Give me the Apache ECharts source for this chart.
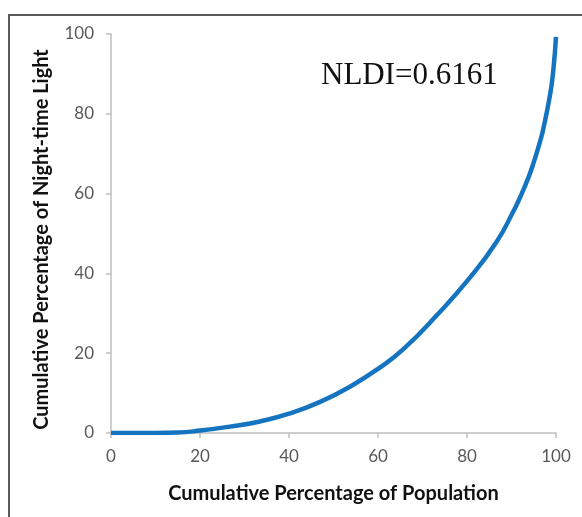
<!DOCTYPE html>
<html>
<head>
<meta charset="utf-8">
<script src="https://cdn.jsdelivr.net/npm/echarts@6/dist/echarts.min.js"></script>
<style>
  html, body { margin: 0; padding: 0; background: #fff; }
  #chart { width: 582px; height: 517px; }
</style>
</head>
<body>
<div id="chart"></div>
<script>
// Lorenz curve of night-time light against population
const populationPct = [0, 5, 10, 15, 20, 26.7, 33.5, 40.2, 47, 53.7, 60.4, 65.7, 73.2, 80.7,
  86.7, 90.4, 91.9, 93.8, 94.9, 96.4, 97.1, 98.7, 99.4, 100];
const lightPct = [0, 0, 0, 0.1, 0.6, 1.6, 2.9, 4.9, 7.8, 11.6, 16.4, 21, 29.5, 39,
  48, 55.5, 59, 64, 67.5, 73, 76, 85, 91, 99.3];
const axisTicks = [0, 20, 40, 60, 80, 100];
const indexLabel = 'NLDI=0.6161';

const points = populationPct.map((x, i) => [x, lightPct[i]]);

const axisGray = '#bfbfbf';
const labelGray = '#595959';

const chart = echarts.init(document.getElementById('chart'), null, { renderer: 'canvas' });
chart.setOption({
  animation: false,
  backgroundColor: '#fff',
  grid: { left: 111, right: 26, top: 34, bottom: 84 },
  graphic: [
    {
      type: 'rect',
      shape: { x: 9, y: 15, width: 620, height: 560 },
      style: { fill: 'none', stroke: '#5a5a5a', lineWidth: 2 },
      silent: true
    },
    {
      type: 'text',
      left: 321, top: 60,
      style: {
        text: indexLabel,
        font: '31px "Liberation Serif", "Times New Roman", serif',
        fill: '#111'
      }
    }
  ],
  xAxis: {
    type: 'value', min: 0, max: 100, interval: 20,
    name: 'Cumulative Percentage of Population',
    nameLocation: 'middle', nameGap: 51,
    nameTextStyle: { fontFamily: 'Lato', fontWeight: 'bold', fontSize: 20, color: '#111' },
    axisLine: { show: true, lineStyle: { color: axisGray, width: 1.5 } },
    axisTick: { show: true, length: 5, lineStyle: { color: axisGray, width: 1.5 } },
    axisLabel: {
      margin: 15, fontFamily: 'Lato', fontSize: 17, color: labelGray,
      customValues: axisTicks
    },
    splitLine: { show: false }
  },
  yAxis: {
    type: 'value', min: 0, max: 100, interval: 20,
    name: 'Cumulative Percentage of Night-time Light',
    nameLocation: 'middle', nameGap: 59,
    nameTextStyle: {
      fontFamily: 'Lato', fontWeight: 'bold', fontSize: 20, color: '#111',
      padding: [0, 12, 0, 0]
    },
    axisLine: { show: true, lineStyle: { color: axisGray, width: 1.5 } },
    axisTick: { show: true, length: 5, lineStyle: { color: axisGray, width: 1.5 } },
    axisLabel: { margin: 17, fontFamily: 'Lato', fontSize: 17, color: labelGray },
    splitLine: { show: false }
  },
  series: [{
    type: 'line',
    data: points,
    smooth: 0.5,
    showSymbol: false,
    lineStyle: { color: '#1574c0', width: 4.5 },
    z: 3
  }]
});
</script>
</body>
</html>
